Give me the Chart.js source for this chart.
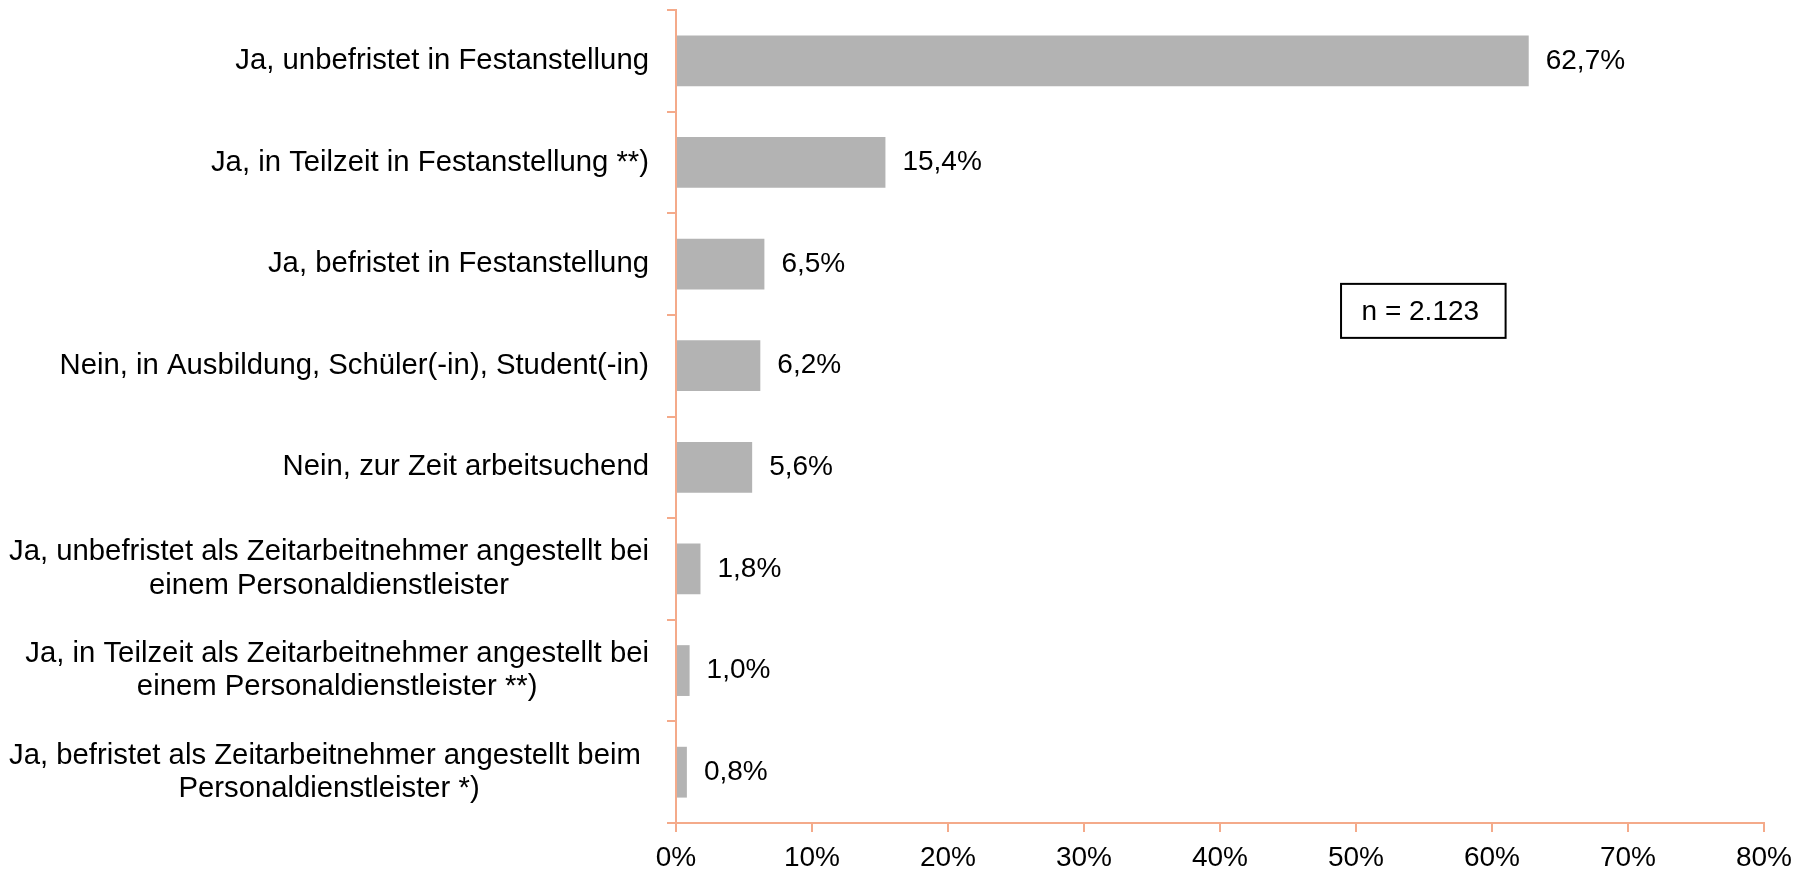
<!DOCTYPE html>
<html>
<head>
<meta charset="utf-8">
<script src="https://cdn.jsdelivr.net/npm/chart.js@4"></script>
<style>
  html, body { margin: 0; padding: 0; background: #ffffff; }
  #wrap { width: 1812px; height: 872px; }
</style>
</head>
<body>
<div id="wrap"><canvas id="c" width="1812" height="872"></canvas></div>
<script>
// ---- data ----
const categories = [
  "Ja, unbefristet in Festanstellung",
  "Ja, in Teilzeit in Festanstellung **)",
  "Ja, befristet in Festanstellung",
  "Nein, in Ausbildung, Schüler(-in), Student(-in)",
  "Nein, zur Zeit arbeitsuchend",
  ["Ja, unbefristet als Zeitarbeitnehmer angestellt bei", "einem Personaldienstleister"],
  ["Ja, in Teilzeit als Zeitarbeitnehmer angestellt bei", "einem Personaldienstleister **)"],
  ["Ja, befristet als Zeitarbeitnehmer angestellt beim ", "Personaldienstleister *)"]
];
const values = [62.7, 15.4, 6.5, 6.2, 5.6, 1.8, 1.0, 0.8];
const xTickValues = [0, 10, 20, 30, 40, 50, 60, 70, 80];
const noteText = "n = 2.123";

// ---- styling ----
const FONT = '"Liberation Sans", Arial, sans-serif';
const FS = 28;
const FS_CAT = 29.3;
const AXIS = '#F4AA8A';
const BAR = '#B3B3B3';

const fmtPct = v => v.toFixed(1).replace('.', ',') + '%';

const labelPlugin = {
  id: 'customLabels',
  afterDatasetsDraw(chart) {
    const { ctx, scales: { x, y }, chartArea } = chart;
    ctx.save();
    ctx.fillStyle = '#000';
    ctx.textBaseline = 'middle';
    // category labels (lines centred on each other, block right-aligned)
    ctx.font = FS_CAT + 'px ' + FONT;
    categories.forEach((lab, i) => {
      const lines = Array.isArray(lab) ? lab : [lab];
      const yc = y.getPixelForValue(i);
      const w = Math.max(...lines.map(l => ctx.measureText(l).width));
      const cx = chartArea.left - 27 - w / 2;
      ctx.textAlign = 'center';
      lines.forEach((l, k) => {
        ctx.fillText(l, cx, yc + (k - (lines.length - 1) / 2) * 33.5);
      });
    });
    // value labels
    ctx.font = FS + 'px ' + FONT;
    const meta = chart.getDatasetMeta(0);
    ctx.textAlign = 'left';
    meta.data.forEach((bar, i) => {
      ctx.fillText(fmtPct(values[i]), bar.x + 17, bar.y);
    });
    // note box
    const bx1 = x.getPixelForValue(48.9);
    const bx2 = x.getPixelForValue(61.0);
    const byc = y.getPixelForValue(2.5) - 4;
    const bh = 54;
    ctx.lineWidth = 2;
    ctx.strokeStyle = '#000';
    ctx.strokeRect(bx1, byc - bh / 2, bx2 - bx1, bh);
    ctx.textAlign = 'center';
    ctx.fillText(noteText, (bx1 + bx2) / 2 - 3, byc + 1);
    ctx.restore();
  }
};

new Chart(document.getElementById('c'), {
  type: 'bar',
  data: {
    labels: categories,
    datasets: [{
      data: values,
      backgroundColor: BAR,
      borderWidth: 0,
      barPercentage: 0.5,
      categoryPercentage: 1.0
    }]
  },
  options: {
    indexAxis: 'y',
    responsive: false,
    maintainAspectRatio: false,
    animation: false,
    layout: { padding: { top: 10, right: 48, bottom: 0, left: 0 } },
    plugins: { legend: { display: false }, tooltip: { enabled: false } },
    scales: {
      y: {
        type: 'category',
        offset: true,
        grid: { offset: true, drawOnChartArea: false, drawTicks: true, tickLength: 9, color: AXIS, lineWidth: 2 },
        border: { color: AXIS, width: 2 },
        ticks: { display: false },
        afterFit: s => { s.width = 676; }
      },
      x: {
        type: 'linear',
        min: 0,
        max: 80,
        afterBuildTicks: s => { s.ticks = xTickValues.map(v => ({ value: v })); },
        ticks: {
          callback: v => v + '%',
          color: '#000',
          font: { family: FONT, size: FS },
          padding: 9,
          maxRotation: 0
        },
        grid: { drawOnChartArea: false, drawTicks: true, tickLength: 9, color: AXIS, lineWidth: 2 },
        border: { color: AXIS, width: 2 },
        afterFit: s => { s.height = 49; }
      }
    }
  },
  plugins: [labelPlugin]
});
</script>
</body>
</html>
